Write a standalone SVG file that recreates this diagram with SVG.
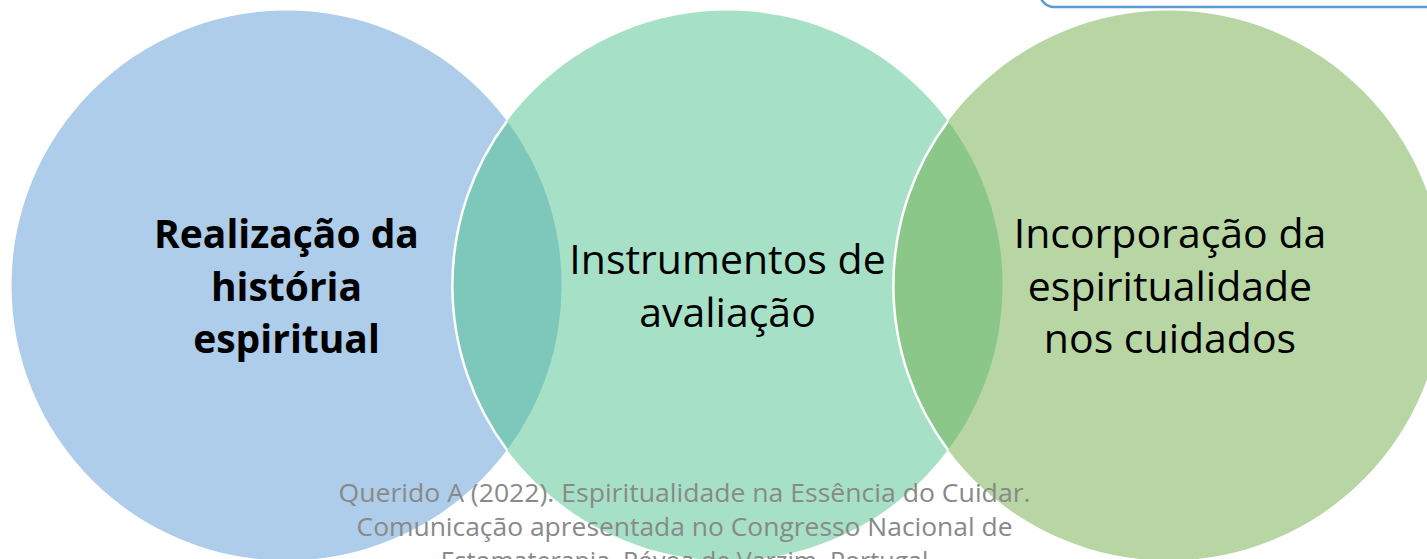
<svg xmlns="http://www.w3.org/2000/svg" width="1427" height="559" viewBox="0 0 1427 559">
  <style>
    .lbl { font-family: "Open Sans", "Noto Sans", sans-serif; font-size: 41px; fill: #000000; text-anchor: middle; }
    .bold { font-weight: bold; font-size: 39px; }
    .cap { font-family: "Open Sans", "Noto Sans", sans-serif; font-size: 25px; fill: #898989; text-anchor: middle; }
  </style>
  <rect width="1427" height="559" fill="#ffffff"/>
  <g id="node-historia">
    <circle cx="286.5" cy="285.5" r="275" fill="#ADCDEA"/>
    <text class="lbl bold" x="286.5" y="248">Realização da</text>
    <text class="lbl bold" x="286.5" y="300.5">história</text>
    <text class="lbl bold" x="286.5" y="353">espiritual</text>
  </g>
  <g id="node-instrumentos">
    <circle cx="727.5" cy="285.5" r="275" fill="#A6E1C7"/>
    <text class="lbl" x="727.5" y="274">Instrumentos de</text>
    <text class="lbl" x="727.5" y="327">avaliação</text>
  </g>
  <g id="node-incorporacao">
    <circle cx="1168.5" cy="285.5" r="275" fill="#B7D6A4"/>
    <text class="lbl" x="1170" y="248">Incorporação da</text>
    <text class="lbl" x="1170" y="300.5">espiritualidade</text>
    <text class="lbl" x="1170" y="353">nos cuidados</text>
  </g>
  <g id="overlaps">
    <path d="M507,121 A275,275 0 0,1 507,450 A275,275 0 0,1 507,121 Z" fill="#7EC8BB"/>
    <path d="M948,121 A275,275 0 0,1 948,450 A275,275 0 0,1 948,121 Z" fill="#8BC788"/>
    <path d="M507,121 A275,275 0 0,0 507,450" fill="none" stroke="#ffffff" stroke-width="2.5"/>
    <path d="M948,121 A275,275 0 0,0 948,450" fill="none" stroke="#ffffff" stroke-width="2.5"/>
  </g>
  <g id="caption">
    <text class="cap" x="684.5" y="502" textLength="692" lengthAdjust="spacingAndGlyphs">Querido A (2022). Espiritualidade na Essência do Cuidar.</text>
    <text class="cap" x="684.5" y="536" textLength="656" lengthAdjust="spacingAndGlyphs">Comunicação apresentada no Congresso Nacional de</text>
    <text class="cap" x="684.5" y="570">Estomaterapia, Póvoa de Varzim, Portugal</text>
  </g>
  <g id="top-box">
    <rect x="1040" y="-40" width="420" height="47" rx="14" fill="#ffffff" stroke="#5B9BD5" stroke-width="2.5"/>
  </g>
</svg>
